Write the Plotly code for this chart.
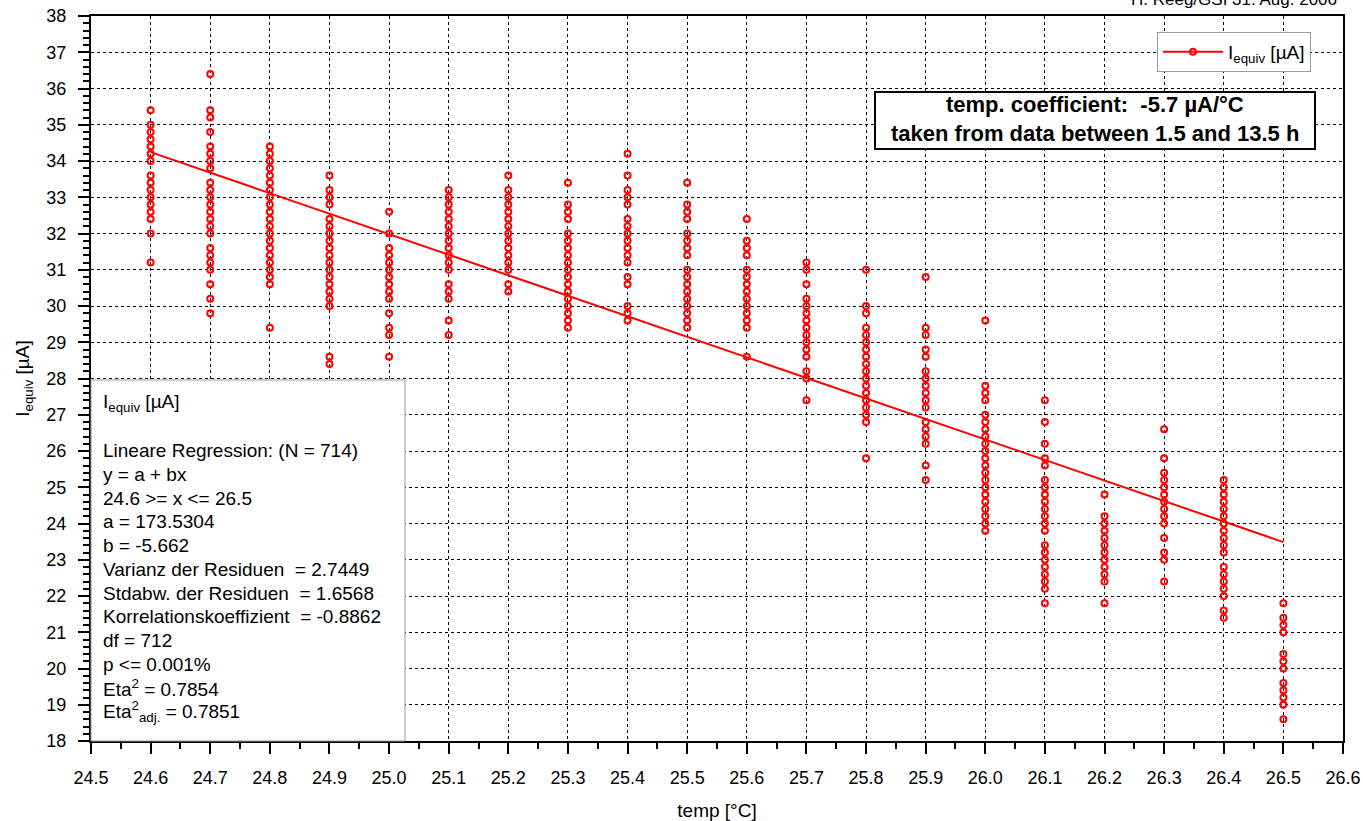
import plotly.graph_objects as go

# ---------------- data ----------------
temps = [24.6, 24.7, 24.8, 24.9, 25.0, 25.1, 25.2, 25.3, 25.4, 25.5,
         25.6, 25.7, 25.8, 25.9, 26.0, 26.1, 26.2, 26.3, 26.4, 26.5]

i_24_6 = [35.4, 35.0, 34.8, 34.6, 34.4, 34.2, 34.0, 33.6, 33.4, 33.2, 33.0, 32.8, 32.6, 32.4, 32.0, 31.2]
i_24_7 = [36.4, 35.4, 35.2, 34.8, 34.4, 34.2, 34.0, 33.8, 33.4, 33.2, 33.0, 32.8, 32.6, 32.4, 32.2, 32.0,
          31.6, 31.4, 31.2, 31.0, 30.6, 30.2, 29.8]
i_24_8 = [34.4, 34.2, 34.0, 33.8, 33.6, 33.4, 33.2, 33.0, 32.8, 32.6, 32.4, 32.2, 32.0, 31.8, 31.6, 31.4,
          31.2, 31.0, 30.8, 30.6, 29.4]
i_24_9 = [33.6, 33.2, 33.0, 32.8, 32.4, 32.2, 32.0, 31.8, 31.6, 31.4, 31.2, 31.0, 30.8, 30.6, 30.4, 30.2,
          30.0, 28.6, 28.4]
i_25_0 = [32.6, 32.0, 31.6, 31.4, 31.2, 31.0, 30.8, 30.6, 30.4, 30.2, 29.8, 29.4, 29.2, 28.6]
i_25_1 = [33.2, 33.0, 32.8, 32.6, 32.4, 32.2, 32.0, 31.8, 31.6, 31.4, 31.2, 31.0, 30.6, 30.4, 30.2, 29.6, 29.2]
i_25_2 = [33.6, 33.2, 33.0, 32.8, 32.6, 32.4, 32.2, 32.0, 31.8, 31.6, 31.4, 31.2, 31.0, 30.6, 30.4]
i_25_3 = [33.4, 32.8, 32.6, 32.4, 32.0, 31.8, 31.6, 31.4, 31.2, 31.0, 30.8, 30.6, 30.4, 30.2, 30.0, 29.8,
          29.6, 29.4]
i_25_4 = [34.2, 33.6, 33.2, 33.0, 32.8, 32.4, 32.2, 32.0, 31.8, 31.6, 31.4, 31.2, 30.8, 30.6, 30.0, 29.8, 29.6]
i_25_5 = [33.4, 32.8, 32.6, 32.4, 32.0, 31.8, 31.6, 31.4, 31.0, 30.8, 30.6, 30.4, 30.2, 30.0, 29.8, 29.6, 29.4]
i_25_6 = [32.4, 31.8, 31.6, 31.4, 31.0, 30.8, 30.6, 30.4, 30.2, 30.0, 29.8, 29.6, 29.4, 28.6]
i_25_7 = [31.2, 31.0, 30.6, 30.2, 30.0, 29.8, 29.6, 29.4, 29.2, 29.0, 28.8, 28.6, 28.2, 28.0, 27.4]
i_25_8 = [31.0, 30.0, 29.8, 29.4, 29.2, 29.0, 28.8, 28.6, 28.4, 28.2, 28.0, 27.8, 27.6, 27.4, 27.2, 27.0,
          26.8, 25.8]
i_25_9 = [30.8, 29.4, 29.2, 28.8, 28.6, 28.2, 28.0, 27.8, 27.6, 27.4, 27.2, 26.8, 26.6, 26.4, 26.2, 25.6, 25.2]
i_26_0 = [29.6, 27.8, 27.6, 27.4, 27.0, 26.8, 26.6, 26.4, 26.2, 26.0, 25.8, 25.6, 25.4, 25.2, 25.0, 24.8,
          24.6, 24.4, 24.2, 24.0, 23.8]
i_26_1 = [27.4, 26.8, 26.2, 25.8, 25.6, 25.2, 25.0, 24.8, 24.6, 24.4, 24.2, 24.0, 23.8, 23.4, 23.2, 23.0,
          22.8, 22.6, 22.4, 22.2, 21.8]
i_26_2 = [24.8, 24.2, 24.0, 23.8, 23.6, 23.4, 23.2, 23.0, 22.8, 22.6, 22.4, 21.8]
i_26_3 = [26.6, 25.8, 25.4, 25.2, 25.0, 24.8, 24.6, 24.4, 24.2, 24.0, 23.6, 23.2, 23.0, 22.4]
i_26_4 = [25.2, 25.0, 24.8, 24.6, 24.4, 24.2, 24.0, 23.8, 23.6, 23.4, 23.2, 22.8, 22.6, 22.4, 22.2, 22.0,
          21.6, 21.4]
i_26_5 = [21.8, 21.4, 21.2, 21.0, 20.4, 20.2, 20.0, 19.6, 19.4, 19.2, 19.0, 18.6]

columns = [i_24_6, i_24_7, i_24_8, i_24_9, i_25_0, i_25_1, i_25_2, i_25_3, i_25_4, i_25_5,
           i_25_6, i_25_7, i_25_8, i_25_9, i_26_0, i_26_1, i_26_2, i_26_3, i_26_4, i_26_5]

# linear regression result (from the stats box)
fit_a = 173.5304
fit_b = -5.662
fit_x = [24.6, 26.5]

stats_lines = [
    "I<sub>equiv</sub> [µA]",
    "",
    "Lineare Regression: (N = 714)",
    "y = a + bx",
    "24.6 >= x <= 26.5",
    "a = 173.5304",
    "b = -5.662",
    "Varianz der Residuen  = 2.7449",
    "Stdabw. der Residuen  = 1.6568",
    "Korrelationskoeffizient  = -0.8862",
    "df = 712",
    "p <= 0.001%",
    "Eta<sup>2</sup> = 0.7854",
    "Eta<sup>2</sup><sub>adj.</sub> = 0.7851",
]

coef_lines = ["temp. coefficient:  -5.7 µA/°C", "taken from data between 1.5 and 13.5 h"]
credit_text = "H. Reeg/GSI 31. Aug. 2006"

# ---------------- layout geometry (pixels) ----------------
W, H = 1363, 821
L, R, T, B = 91, 1343, 16, 741
FONT = "Liberation Sans, Arial, sans-serif"
RED = "#ff0000"


def px_x(p):
    return (p - L) / (R - L)


def px_y(p):
    return (B - p) / (B - T)


xs, ys = [], []
for t, col in zip(temps, columns):
    for v in col:
        xs.append(t)
        ys.append(v)

fit_y = [fit_a + fit_b * x for x in fit_x]

fig = go.Figure()
fig.add_trace(go.Scatter(
    x=xs, y=ys, mode="markers", showlegend=False,
    marker=dict(symbol="circle-open", size=6, color=RED, line=dict(width=2, color=RED)),
))
fig.add_trace(go.Scatter(
    x=fit_x, y=fit_y, mode="lines", showlegend=False,
    line=dict(color=RED, width=2),
))
# legend entry (line + circle)
fig.add_trace(go.Scatter(
    x=[None], y=[None], mode="lines+markers", name="I<sub>equiv</sub> [µA]",
    line=dict(color=RED, width=2),
    marker=dict(symbol="circle-open", size=6, color=RED, line=dict(width=2, color=RED)),
))

shapes = [
    # stats box
    dict(type="rect", xref="paper", yref="paper",
         x0=px_x(91), x1=px_x(405), y0=px_y(741), y1=px_y(380),
         fillcolor="white", line=dict(color="#999999", width=1), layer="above"),
    # coefficient box
    dict(type="rect", xref="paper", yref="paper",
         x0=px_x(875), x1=px_x(1315), y0=px_y(149), y1=px_y(92),
         fillcolor="white", line=dict(color="black", width=2), layer="above"),
]

annotations = []
for i, line in enumerate(stats_lines):
    if not line:
        continue
    annotations.append(dict(
        xref="paper", yref="paper", x=px_x(101), y=px_y(403 + i * 23.75),
        xanchor="left", yanchor="middle", text=line, showarrow=False,
        font=dict(family=FONT, size=19, color="black"), align="left"))

for i, line in enumerate(coef_lines):
    annotations.append(dict(
        xref="paper", yref="paper", x=px_x(1095), y=px_y(105 + i * 28.5),
        xanchor="center", yanchor="middle", text="<b>" + line + "</b>",
        showarrow=False, font=dict(family=FONT, size=22, color="black"), align="center"))

annotations.append(dict(
    xref="paper", yref="paper", x=px_x(1339), y=px_y(-1),
    xanchor="right", yanchor="middle", text=credit_text, showarrow=False,
    font=dict(family=FONT, size=17, color="black")))

fig.update_layout(
    template="none",
    width=W, height=H,
    margin=dict(l=L, r=W - R, t=T, b=H - B, pad=0, autoexpand=False),
    paper_bgcolor="white", plot_bgcolor="white",
    font=dict(family=FONT, size=18, color="black"),
    shapes=shapes, annotations=annotations,
    legend=dict(x=px_x(1157), y=px_y(32), xanchor="left", yanchor="top",
                bgcolor="white", bordercolor="#999999", borderwidth=1,
                itemwidth=60,
                font=dict(family=FONT, size=19, color="black")),
)

fig.update_xaxes(
    automargin=False,
    range=[24.5, 26.6], tick0=24.5, dtick=0.1, tickformat=".1f",
    showline=True, linecolor="black", linewidth=2, mirror=True,
    ticks="outside", ticklen=11, tickwidth=2, tickcolor="black",
    ticklabelstandoff=8,
    minor=dict(dtick=0.05, tick0=24.5, ticks="outside", ticklen=6, tickwidth=2, tickcolor="black", showgrid=False),
    showgrid=True, gridcolor="black", gridwidth=1, griddash="dot",
    zeroline=False,
    tickfont=dict(family=FONT, size=18, color="black"),
    title=dict(text="temp [°C]", font=dict(family=FONT, size=19, color="black"), standoff=17),
)
fig.update_yaxes(
    automargin=False,
    range=[18, 38], tick0=18, dtick=1,
    showline=True, linecolor="black", linewidth=2, mirror=True,
    ticks="outside", ticklen=11, tickwidth=2, tickcolor="black",
    ticklabelstandoff=8,
    minor=dict(dtick=0.2, tick0=18, ticks="outside", ticklen=6, tickwidth=2, tickcolor="black", showgrid=False),
    showgrid=True, gridcolor="black", gridwidth=1, griddash="dot",
    zeroline=False,
    tickfont=dict(family=FONT, size=18, color="black"),
    title=dict(text="I<sub>equiv</sub> [µA]", font=dict(family=FONT, size=19, color="black"), standoff=12),
)

fig.write_html("out.html")
